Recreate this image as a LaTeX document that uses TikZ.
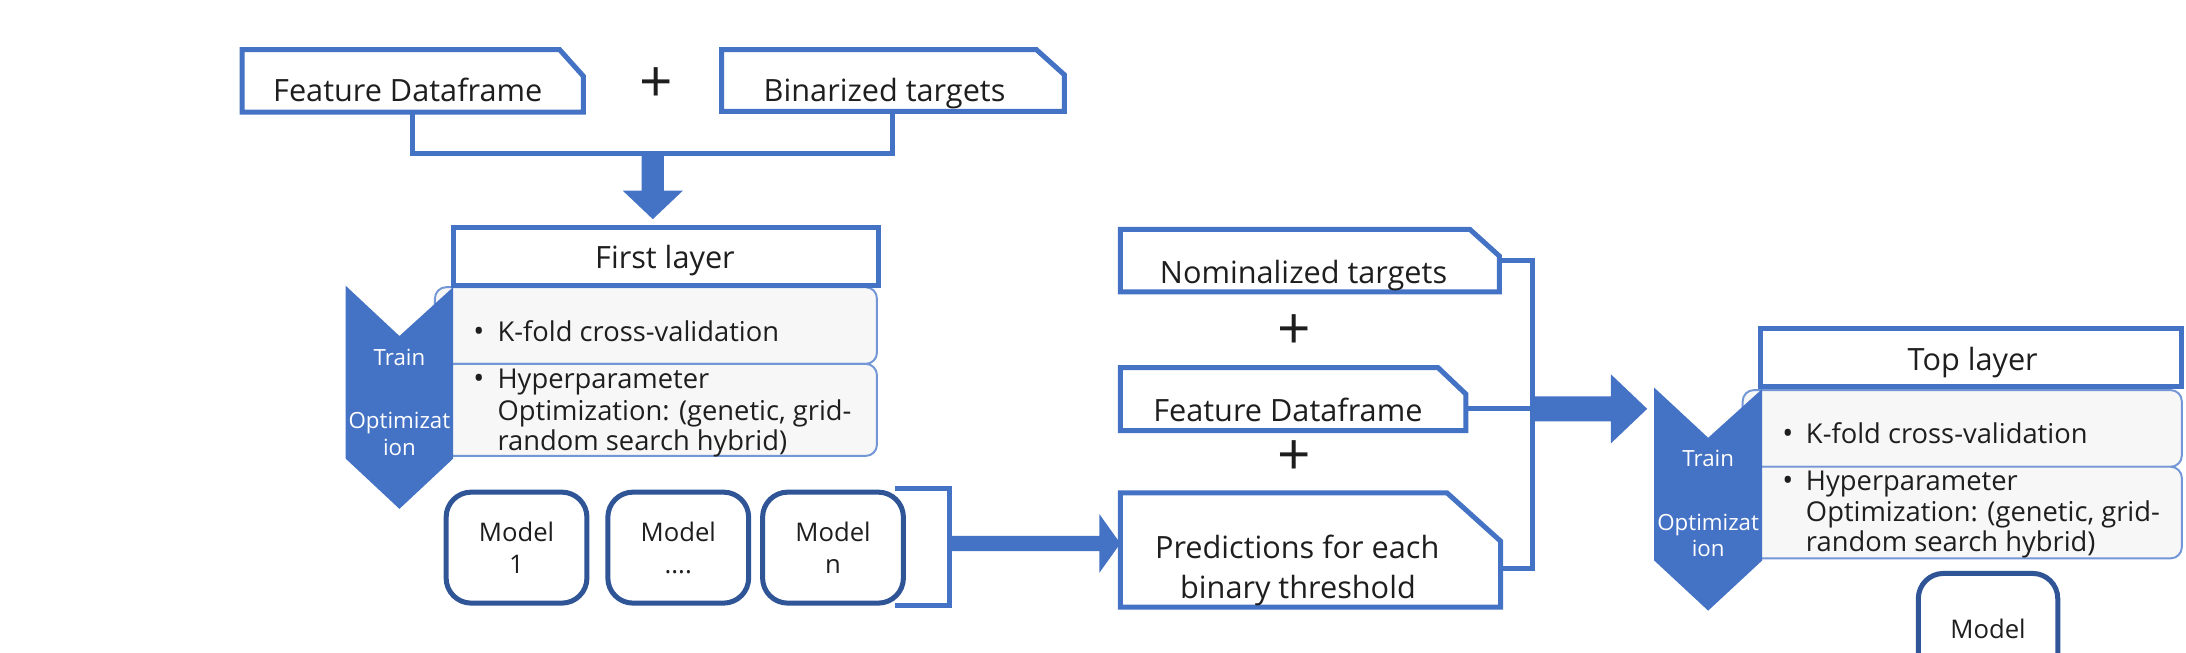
\documentclass[tikz,border=0pt]{standalone}
\usepackage{fontspec}
\setmainfont{Open Sans}
\usetikzlibrary{calc}
\definecolor{myblue}{HTML}{4472C4}
\definecolor{mydark}{HTML}{2F5597}
\definecolor{lightfill}{HTML}{F7F7F7}
\definecolor{innerline}{HTML}{7396D6}
\definecolor{txt}{HTML}{1E1E1E}
\newcommand{\hblock}[5]{\fill[myblue] ($(#1)+(0,-#3)$) -- ($(#2)+(-#5,-#3)$) -- ($(#2)+(-#5,-#4)$) -- (#2) -- ($(#2)+(-#5,#4)$) -- ($(#2)+(-#5,#3)$) -- ($(#1)+(0,#3)$) -- cycle;}
\newcommand{\vblock}[5]{\fill[myblue] ($(#1)+(-#3,0)$) -- ($(#2)+(-#3,-#5)$) -- ($(#2)+(-#4,-#5)$) -- (#2) -- ($(#2)+(#4,-#5)$) -- ($(#2)+(#3,-#5)$) -- ($(#1)+(#3,0)$) -- cycle;}
\begin{document}
\begin{tikzpicture}[x=0.5pt,y=-0.5pt,
  boxline/.style={draw=myblue,line width=1.8pt,line join=miter},
  conn/.style={draw=myblue,line width=1.8pt},
  boxframe/.style={rectangle,inner sep=0pt,draw=none},
  titlebox/.style={rectangle,inner sep=0pt,draw=myblue,fill=white,line width=1.8pt},
  innerbox/.style={rectangle,inner sep=0pt,draw=innerline,fill=lightfill,line width=0.7pt,rounded corners=4pt},
  modelbox/.style={rectangle,inner sep=0pt,draw=mydark,line width=1.8pt,rounded corners=9pt,align=center,text=txt,font=\fontsize{9.2}{11.5}\selectfont},
  ttl/.style={anchor=base,inner sep=0pt,text=txt,font=\fontsize{11}{13}\selectfont},
  blt/.style={anchor=base west,inner sep=0pt,text=txt,font=\fontsize{9.8}{11}\selectfont},
  bulletnode/.style={anchor=base,inner sep=0pt,text=txt,font=\fontsize{10.5}{11}\selectfont},
  chv/.style={anchor=base,inner sep=0pt,text=white,font=\fontsize{8}{9}\selectfont},
  plusnode/.style={inner sep=0pt,text=txt,font=\fontsize{21}{21}\selectfont},
]
\path[use as bounding box] (0,0) rectangle (1568,468);
\clip (0,0) rectangle (1568,468);

% ---------- top inputs ----------
\node[boxframe,minimum width=122pt,minimum height=22pt] (fd1) at (296,58) {};
\draw[boxline] (fd1.south west) -- (fd1.north west) -- ($(fd1.north east)+(-17,0)$) -- ($(fd1.north east)+(0,19)$) -- (fd1.south east) -- cycle;
\node[ttl] (tfd1) at (292.5,73) {Feature Dataframe};

\node[boxframe,minimum width=122.5pt,minimum height=21.75pt] (bin) at (640.5,57.75) {};
\draw[boxline] (bin.south west) -- (bin.north west) -- ($(bin.north east)+(-20,0)$) -- ($(bin.north east)+(0,18)$) -- (bin.south east) -- cycle;
\node[ttl] (tbin) at (634.5,73) {Binarized targets};

\node[plusnode] (p1) at (470.8,61) {+};

% ---------- first layer ----------
\node[innerbox,minimum width=158.5pt,minimum height=27.5pt] (kf1) at (470.5,233.5) {};
\node[innerbox,minimum width=158.5pt,minimum height=33pt] (hp1) at (470.5,294) {};
\fill[myblue] (248,205) -- (286.5,241) -- (325,206) -- (325,329) -- (286.5,365) -- (248,329) -- cycle;
\node[chv] (tr1) at (286.5,261.8) {Train};
\node[chv] (op1) at (286.5,307.3) {Optimizat};
\node[chv] (io1) at (286.5,326.4) {ion};
\node[titlebox,minimum width=152.5pt,minimum height=20.75pt] (first) at (477.5,183.75) {};
\node[ttl] (tfirst) at (477,192.5) {First layer};

\node[bulletnode] (b11) at (343.5,245) {•};
\node[blt] (k1) at (356.5,245) {K-fold cross-validation};
\node[bulletnode] (b12) at (343.5,278.6) {•};
\node[blt] (h1a) at (356.5,278.6) {Hyperparameter};
\node[blt] (h1b) at (356.5,301.3) {Optimization: (genetic, grid-};
\node[blt] (h1c) at (356.5,322.8) {random search hybrid)};

% connector from inputs to first layer
\coordinate (jn) at ($(fd1.south)!0.5!(bin.south)+(0,30)$);
\draw[conn] (fd1.south) -- (fd1.south |- jn) -| (bin.south);
\coordinate (dtip) at ($(jn |- first.north)+(0,-4)$);
\vblock{jn}{dtip}{8}{21.5}{20.4}

% ---------- models ----------
\node[modelbox,minimum width=50.5pt,minimum height=39.8pt] (m1) at (370.5,392.8) {Model\\1};
\node[modelbox,minimum width=50.5pt,minimum height=39.8pt] (m2) at (486.5,392.8) {Model\\....};
\node[modelbox,minimum width=50.5pt,minimum height=39.8pt] (m3) at (597.5,392.8) {Model\\n};
\coordinate (brR) at ($(m3.east)+(31,-3)$);
\draw[conn] ($(m3.north east)+(-8,-1)$) -| (brR) |- ($(m3.south east)+(-8,0)$);

% ---------- middle column ----------
\node[boxframe,minimum width=135.5pt,minimum height=22pt] (nom) at (939.5,187) {};
\draw[boxline] (nom.south west) -- (nom.north west) -- ($(nom.north east)+(-21,0)$) -- ($(nom.north east)+(0,19)$) -- (nom.south east) -- cycle;
\node[ttl] (tnom) at (935,203.3) {Nominalized targets};

\node[plusnode] (p2) at (928.2,238.4) {+};

\node[boxframe,minimum width=123.5pt,minimum height=22.25pt] (fd2) at (927.5,286.25) {};
\draw[boxline] (fd2.south west) -- (fd2.north west) -- ($(fd2.north east)+(-20,0)$) -- ($(fd2.north east)+(0,19)$) -- (fd2.south east) -- cycle;
\node[ttl] (tfd2) at (923.8,302.5) {Feature Dataframe};

\node[plusnode] (p3) at (928,328.6) {+};

\node[boxframe,minimum width=136pt,minimum height=40.5pt] (pred) at (940,394.5) {};
\draw[boxline] (pred.south west) -- (pred.north west) -- ($(pred.north east)+(-38.4,0)$) -- ($(pred.north east)+(0,34.6)$) -- (pred.south east) -- cycle;
\node[ttl] (tpred1) at (930.5,400.5) {Predictions for each};
\node[ttl] (tpred2) at (931,429.2) {binary threshold};

% arrow models -> predictions
\coordinate (a1e) at (pred.west |- brR);
\hblock{brR}{a1e}{5.5}{21}{15}

% right-hand connector
\coordinate (vx) at (1099,0);
\coordinate (pb) at ($(pred.east)+(0,13)$);
\coordinate (fm) at ($(fd2.east)+(0,7)$);
\draw[conn] (nom.east) -| (vx |- pb) -- (pb);
\draw[conn] (fm) -- (vx |- fm);

% ---------- top layer ----------
\coordinate (c2) at (1186.5,278);
\coordinate (a2s) at (vx |- fm);
\coordinate (a2e) at ($(c2 |- fm)+(-5,0)$);
\hblock{a2s}{a2e}{9}{24.75}{26}

\node[innerbox,minimum width=157.5pt,minimum height=27.5pt] (kf2) at (1407.5,307.3) {};
\node[innerbox,minimum width=157.5pt,minimum height=32.85pt] (hp2) at (1407.5,367.65) {};
\fill[myblue] (c2) -- (1225.25,314) -- (1264,279) -- (1264,402) -- (1225.25,438) -- (1186.5,402) -- cycle;
\node[chv] (tr2) at (1225.25,334.8) {Train};
\node[chv] (op2) at (1225.25,380.8) {Optimizat};
\node[chv] (io2) at (1225.25,399.4) {ion};
\node[titlebox,minimum width=151.2pt,minimum height=20.95pt] (top) at (1413.8,256.45) {};
\node[ttl] (ttop) at (1415,266) {Top layer};

\node[bulletnode] (b21) at (1282.5,318) {•};
\node[blt] (k2) at (1295,318) {K-fold cross-validation};
\node[bulletnode] (b22) at (1282.5,351.6) {•};
\node[blt] (h2a) at (1295,351.6) {Hyperparameter};
\node[blt] (h2b) at (1295,374.3) {Optimization: (genetic, grid-};
\node[blt] (h2c) at (1295,395.8) {random search hybrid)};

\node[modelbox,minimum width=50pt,minimum height=39.85pt] (mt) at (1426,451.15) {Model};
\end{tikzpicture}
\end{document}
